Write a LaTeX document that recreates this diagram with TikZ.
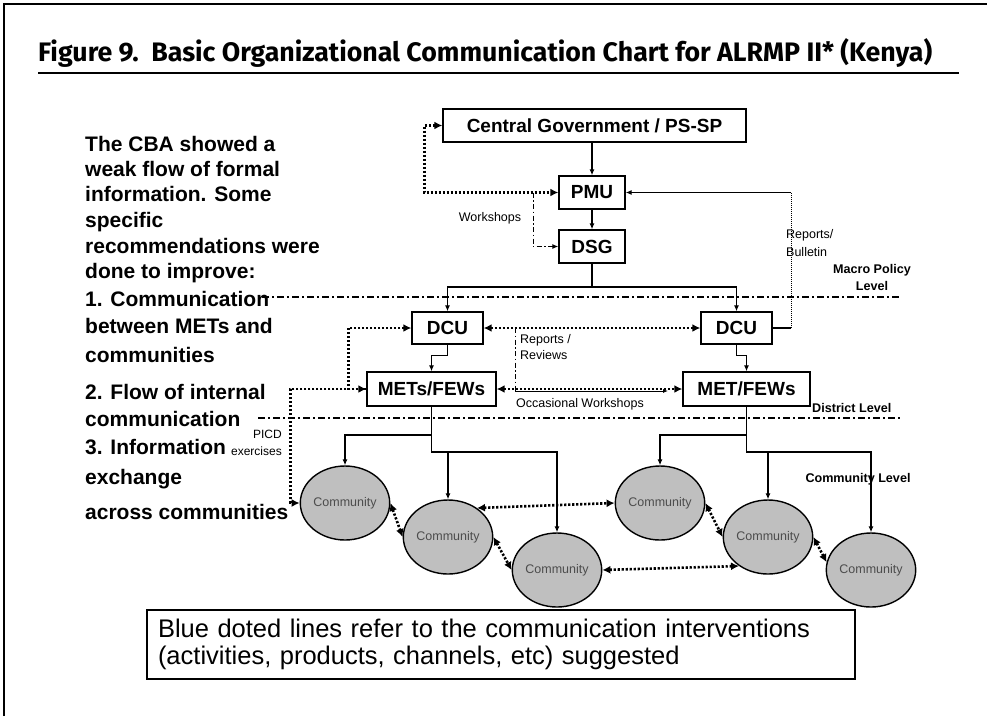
\documentclass[tikz,border=0pt]{standalone}
\usepackage{fontspec}
\setmainfont{Liberation Sans}
\newfontfamily\titlefont{Fira Sans}
\usepackage{graphicx}
\usetikzlibrary{arrows.meta,shapes.geometric}
\newcommand{\fsz}[2]{\fontsize{#1pt}{#2pt}\selectfont}
\begin{document}
\begin{tikzpicture}[x=1pt,y=-1pt,
  box/.style={draw, line width=1.4pt, fill=white, inner sep=0pt, font={\bfseries\fsz{19}{22}}},
  comm/.style={ellipse, draw, line width=1.4pt, fill=black!25, minimum width=70pt, minimum height=74pt, inner sep=0pt, font={\fsz{12.5}{14}}, text=black!70},
  conn/.style={line width=1.1pt, -{Latex[length=6pt,width=5pt]}},
  plainln/.style={line width=1.1pt},
  dotbi/.style={line width=2.6pt, dash pattern=on 2.2pt off 1.8pt, {Latex[length=8pt,width=8pt]}-{Latex[length=8pt,width=8pt]}},
  dotone/.style={line width=2.6pt, dash pattern=on 2.2pt off 1.8pt, -{Latex[length=8pt,width=8pt]}},
  dashdot/.style={line width=1pt, dash pattern=on 5pt off 2.5pt on 1.5pt off 2.5pt},
  levelln/.style={line width=1.3pt, dash pattern=on 7pt off 3pt on 2pt off 3pt},
  lbl/.style={inner sep=0pt, font={\fsz{12.5}{15}}},
  lvl/.style={inner sep=0pt, font={\bfseries\fsz{12.6}{15}}},
  side/.style={anchor=base west, inner sep=0pt, font={\bfseries\fsz{21}{24}}},
]
\useasboundingbox (0,0) rectangle (987,716);
% frame and title
\draw[line width=2.5pt] (4,716) -- (4,4) -- (987,4);
\node[anchor=base west, inner sep=0pt] (title) at (38,61.5) {\resizebox{894pt}{!}{\titlefont\bfseries Figure 9.\ \ Basic Organizational Communication Chart for ALRMP II* (Kenya)}};
\coordinate (ulA) at (38,73);
\coordinate (ulB) at (959,73);
\draw[line width=1.3pt] (ulA) -- (ulB);

% left text
\foreach \yy/\txt [count=\i] in {151/The CBA showed a, 176/weak flow of formal, 201/information. Some, 227/specific, 253/recommendations were, 278/done to improve:, 306/1. Communication, 333/between METs and, 362/communities, 399/2. Flow of internal, 426/communication, 454/3. Information, 484/exchange, 519/across communities}
  \node[side] (s\i) at (85,\yy) {\txt};

% level lines
\coordinate (lv1a) at (262,297);
\coordinate (lv1b) at (900,297);
\coordinate (lv2a) at (258,418);
\coordinate (lv2b) at (900,418);
\draw[levelln] (lv1a) -- (lv1b);
\draw[levelln] (lv2a) -- (lv2b);

% boxes
\node[box, minimum width=303pt, minimum height=33pt] (CG) at (594.5,125.5) {Central Government / PS-SP};
\node[box, minimum width=66pt, minimum height=33pt] (PMU) at (592,192.5) {PMU};
\node[box, minimum width=66pt, minimum height=33pt] (DSG) at (592,246.5) {DSG};
\node[box, minimum width=71pt, minimum height=32pt] (DCUL) at (447.5,328) {DCU};
\node[box, minimum width=71pt, minimum height=32pt] (DCUR) at (736.5,328) {DCU};
\node[box, minimum width=129pt, minimum height=34pt] (METL) at (431.5,389) {METs/FEWs};
\node[box, minimum width=127pt, minimum height=34pt] (METR) at (746.5,389) {MET/FEWs};

% communities
\node[comm] (C1) at (345,503) {Community};
\node[comm] (C2) at (448,537) {Community};
\node[comm] (C3) at (557,570) {Community};
\node[comm] (C4) at (660,503) {Community};
\node[comm] (C5) at (768,537) {Community};
\node[comm] (C6) at (871,570) {Community};

% bottom note
\node[draw, line width=2pt, minimum width=708pt, minimum height=69pt, inner xsep=11pt, inner ysep=0pt, text width=686pt, align=left, font={\fsz{25.5}{26.5}}] (note) at (501,644.5) {Blue doted lines refer to the communication interventions\\(activities, products, channels, etc) suggested};

% labels
\node[lbl] (wks) at (490,218) {Workshops};
\node[lbl, anchor=west, align=left, font={\fsz{12.5}{16}}] (rrv) at (520,347) {Reports /\\Reviews};
\node[lbl, anchor=west, align=left, font={\fsz{12.5}{18}}] (rbl) at (786,243) {Reports/\\Bulletin};
\node[lvl, align=center, font={\bfseries\fsz{12.6}{17}}] (macro) at (872,277.5) {Macro Policy\\Level};
\node[lvl, anchor=west] (dist) at (812,408) {District Level};
\node[lvl] (cml) at (858,479) {Community Level};
\node[lbl] (occ) at (580,404) {Occasional Workshops};
\node[lbl, anchor=east, font={\fsz{12}{14}}] (picd) at (282,434) {PICD};
\node[lbl, anchor=east, font={\fsz{12}{14}}] (exer) at (282,451) {exercises};

% solid hierarchy connectors
\draw[conn] (PMU.north |- CG.south) -- (PMU.north);
\draw[conn] (PMU.south) -- (DSG.north);
\coordinate (hub) at (592,287);
\draw[plainln] (DSG.south) -- (hub);
\draw[conn] (hub) -| (DCUL.north);
\draw[conn] (hub) -| (DCUR.north);
\draw[conn] (DCUL.south) -- ++(0,11) -| (METL.north);
\draw[conn] (DCUR.south) -- ++(0,11) -| (METR.north);

\coordinate (mL1) at (431.5,435);
\coordinate (mL2) at (431.5,452);
\coordinate (mL3) at (448,452);
\draw[conn] (METL.south) -- (mL1) -| (C1.north);
\draw[conn] (mL1) -- (mL2) -| (C3.north);
\draw[conn] (mL3) -- (C2.north);
\coordinate (mR1) at (746.5,435);
\coordinate (mR2) at (746.5,452);
\coordinate (mR3) at (768,452);
\draw[conn] (METR.south) -- (mR1) -| (C4.north);
\draw[conn] (mR1) -- (mR2) -| (C6.north);
\draw[conn] (mR3) -- (C5.north);

% reports / bulletin
\coordinate (rb) at (791,192.5);
\draw[plainln] (DCUR.east) -- (DCUR.east -| rb);
\draw[line width=1pt, densely dotted] (DCUR.east -| rb) -- (rb);
\draw[conn] (rb) -- (PMU.east);

% workshops
\coordinate (wk) at (533,192.5);
\draw[dashdot, -{Latex[length=6pt,width=5pt]}] (wk) |- (DSG.west);

% reports / reviews
\coordinate (rr1) at (515,328);
\coordinate (rr2) at (515,391);
\coordinate (rr3) at (668,391);
\draw[dashdot] (rr1) -- (rr2);
\draw[line width=0.9pt, -{Latex[length=5pt,width=4pt]}] (rr2) -- (rr3);

% dotted communication interventions
\draw[dotbi] (CG.west) -- ++(-18,0) |- (PMU.west);
\draw[dotbi] (DCUL.east) -- (DCUR.west);
\draw[dotbi] (DCUL.west) -- ++(-63,0) |- (METL.west);
\draw[dotone] (METL.west) -- ++(-76,0) |- (C1.west);
\draw[dotbi] (METL.east) -- (METR.west);
\draw[dotbi] (C1.0) -- (C2.180);
\draw[dotbi] (C2.east) -- (C3.west);
\draw[dotbi] (C2.45) -- (C4.west);
\draw[dotbi] (C3.east) -- (C5.225);
\draw[dotbi] (C4.east) -- (C5.west);
\draw[dotbi] (C5.east) -- (C6.170);
\end{tikzpicture}
\end{document}
